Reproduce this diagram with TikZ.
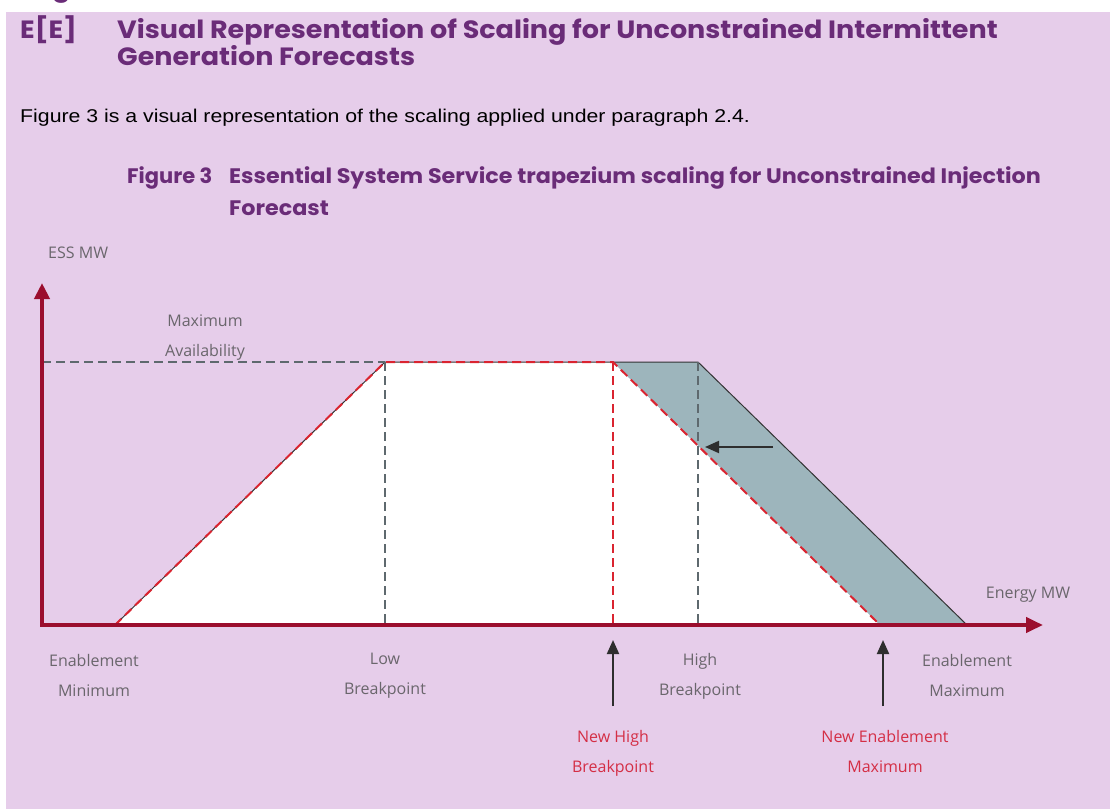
\documentclass[tikz,border=0pt]{standalone}
\usepackage{fontspec}
\usetikzlibrary{arrows.meta}
\newfontfamily\headfont{Poppins}[FakeStretch=1.08]
\newfontfamily\capfont{Poppins}[FakeStretch=1.06]
\newfontfamily\figfont{Poppins}
\newfontfamily\lblfont{Open Sans}
\newfontfamily\bodyfont{Liberation Sans}[FakeStretch=1.15]
\definecolor{bg}{HTML}{E6CDEA}
\definecolor{headpurple}{HTML}{6A2C78}
\definecolor{axisred}{HTML}{9B0E2E}
\definecolor{dashred}{HTML}{DA2430}
\definecolor{dashgray}{HTML}{5E696E}
\definecolor{bandfill}{HTML}{9DB5BC}
\definecolor{lblgray}{HTML}{6A666C}
\definecolor{lblred}{HTML}{D42E45}
\definecolor{arrowdark}{HTML}{2E2E2E}
\begin{document}
\begin{tikzpicture}[x=1pt,y=-1pt,
  headtxt/.style={font=\headfont\bfseries\fontsize{25}{28}\selectfont, text=headpurple, anchor=base west, inner sep=0pt},
  captxt/.style={font=\capfont\bfseries\fontsize{21}{32}\selectfont, text=headpurple, anchor=base west, inner sep=0pt},
  figtxt/.style={captxt, font=\figfont\bfseries\fontsize{21}{32}\selectfont},
  bodytxt/.style={font=\bodyfont\fontsize{18.5}{20}\selectfont, text=black, anchor=base west, inner sep=0pt},
  lbl/.style={font=\lblfont\fontsize{16}{30}\selectfont, text=lblgray, align=center, inner sep=0pt},
  redlbl/.style={lbl, text=lblred},
  axisline/.style={draw=axisred, line width=4pt, line join=miter},
  graydash/.style={draw=dashgray, line width=2.2pt, dash pattern=on 9pt off 5pt},
  reddash/.style={draw=dashred, line width=2pt, dash pattern=on 9pt off 5pt},
  outline/.style={draw=black!80, line width=1pt},
  pointer/.style={draw=arrowdark, line width=2pt, -{Triangle[length=14pt,width=12pt]}}
]
\useasboundingbox (0,0) rectangle (1110,809);
\fill[white] (0,0) rectangle (1110,809);
\fill[bg] (6,12) rectangle (1110,809);
% clipped fragment of the text above
\begin{scope}
\clip (0,0) rectangle (1110,12);
\node[headtxt] (frag) at (52,-4) {g};
\end{scope}
% heading
\node[headtxt] (ee) at (20,38) {E[E]};
\node[headtxt] (h1) at (117,38) {Visual Representation of Scaling for Unconstrained Intermittent};
\node[headtxt] (h2) at (117,65) {Generation Forecasts};
\node[bodytxt] (para) at (20,122) {Figure 3 is a visual representation of the scaling applied under paragraph 2.4.};
\node[figtxt] (fig) at (127,183) {Figure 3};
\node[captxt] (c1) at (229,183) {Essential System Service trapezium scaling for Unconstrained Injection};
\node[captxt] (c2) at (229,215) {Forecast};
% geometry
\coordinate (O) at (42,625);
\coordinate (ytip) at (42,283);
\coordinate (xtip) at (1043,625);
\coordinate (emin) at (115,625);
\coordinate (lowtop) at (385,362);
\coordinate (newhigh) at (613,362);
\coordinate (hightop) at (698,362);
\coordinate (newemax) at (880,625);
\coordinate (emax) at (967,625);
\coordinate (yavail) at (42,362);
\coordinate (lowbot) at (385,625);
\coordinate (newhighbot) at (613,625);
\coordinate (highbot) at (698,625);
% fills
\fill[white] (emin) -- (lowtop) -- (newhigh) -- (newemax) -- cycle;
\fill[bandfill] (newhigh) -- (hightop) -- (emax) -- (newemax) -- cycle;
% original trapezium outline
\draw[outline] (emin) -- (lowtop) -- (hightop) -- (emax);
% dashed guides
\draw[graydash] (yavail) -- (lowtop);
\draw[graydash] (lowtop) -- (lowbot);
\draw[graydash] (hightop) -- (highbot);
\draw[reddash] (newhigh) -- (newhighbot);
\draw[reddash] (emin) -- (lowtop) -- (newhigh) -- (newemax);
% axes
\draw[axisline, {Triangle[length=16pt,width=15pt]}-{Triangle[length=17pt,width=15pt]}] (ytip) -- (O) -- (xtip);
% shift arrow
\coordinate (shtail) at (773,447);
\coordinate (shtip) at (705,447);
\draw[pointer] (shtail) -- (shtip);
% up arrows
\coordinate (a1b) at (613,706);
\coordinate (a1t) at (613,640);
\coordinate (a2b) at (883,706);
\coordinate (a2t) at (883,640);
\draw[pointer] (a1b) -- (a1t);
\draw[pointer] (a2b) -- (a2t);
% labels
\node[lbl, anchor=west] (ess) at (48,253) {ESS MW};
\node[lbl] (maxav) at (205,338) {Maximum\\Availability};
\node[lbl] (energy) at (1028,595) {Energy MW};
\node[lbl] (l1) at (94,675) {Enablement\\Minimum};
\node[lbl] (l2) at (385,676) {Low\\Breakpoint};
\node[lbl] (l3) at (700,676) {High\\Breakpoint};
\node[lbl] (l4) at (967,675) {Enablement\\Maximum};
\node[redlbl] (l5) at (613,753) {New High\\Breakpoint};
\node[redlbl] (l6) at (885,751) {New Enablement\\Maximum};
\end{tikzpicture}
\end{document}
